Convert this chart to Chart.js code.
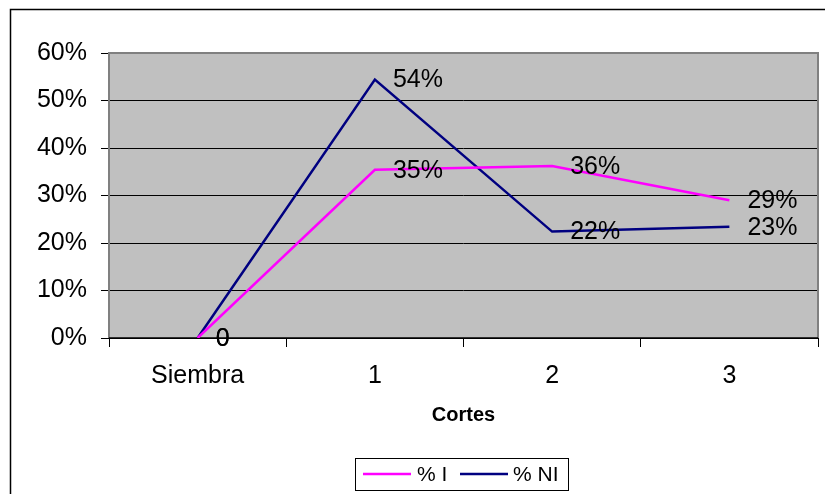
<!DOCTYPE html>
<html>
<head>
<meta charset="utf-8">
<title>Cortes</title>
<script src="https://cdn.jsdelivr.net/npm/chart.js@4/dist/chart.umd.min.js"></script>
<style>
  html, body { margin: 0; padding: 0; background: #fff; }
  #wrap { width: 825px; height: 494px; position: relative; }
</style>
</head>
<body>
<div id="wrap"><canvas id="c" width="825" height="494"></canvas></div>
<script>
// Categories along the x axis (harvest cuts)
const categories = ['Siembra', '1', '2', '3'];
// Share per cut, as fractions
const pctI  = [0, 0.354, 0.362, 0.290];
const pctNI = [0, 0.544, 0.224, 0.234];
// Series names
const seriesNames = ['% I', '% NI'];
// Y axis range and step
const yMin = 0, yMax = 0.6, yStep = 0.1;

const FONT = "'Liberation Sans', Arial, sans-serif";

function fmtPct(v) {
  return v === 0 ? '0' : Math.round(v * 100) + '%';
}

// Frame, plot-area fill and border
const framePlugin = {
  id: 'frame',
  beforeDraw(chart) {
    const { ctx, chartArea: a } = chart;
    ctx.save();
    ctx.fillStyle = '#fff';
    ctx.fillRect(0, 0, chart.width, chart.height);
    ctx.strokeStyle = '#000';
    ctx.lineWidth = 1.5;
    ctx.beginPath();
    ctx.moveTo(10.5, chart.height + 2);
    ctx.lineTo(10.5, 9.5);
    ctx.lineTo(chart.width + 2, 9.5);
    ctx.stroke();
    ctx.fillStyle = '#C0C0C0';
    ctx.fillRect(a.left, a.top, a.right - a.left, a.bottom - a.top);
    ctx.restore();
  },
  beforeDatasetsDraw(chart) {
    const { ctx, chartArea: a } = chart;
    ctx.save();
    ctx.strokeStyle = '#808080';
    ctx.lineWidth = 2;
    ctx.beginPath();
    ctx.moveTo(a.left, a.bottom);
    ctx.lineTo(a.left, a.top);
    ctx.lineTo(a.right, a.top);
    ctx.lineTo(a.right, a.bottom);
    ctx.stroke();
    ctx.strokeStyle = '#000';
    ctx.lineWidth = 1.5;
    ctx.beginPath();
    ctx.moveTo(a.left, a.bottom);
    ctx.lineTo(a.right, a.bottom);
    ctx.stroke();
    ctx.restore();
  }
};

// Value labels to the right of each point
const valueLabels = {
  id: 'valueLabels',
  afterDatasetsDraw(chart) {
    const { ctx } = chart;
    ctx.save();
    ctx.font = '25px ' + FONT;
    ctx.fillStyle = '#000';
    ctx.textAlign = 'left';
    ctx.textBaseline = 'middle';
    chart.data.datasets.forEach((ds, i) => {
      const meta = chart.getDatasetMeta(i);
      meta.data.forEach((pt, j) => {
        ctx.fillText(fmtPct(ds.data[j]), pt.x + 18, pt.y + 1);
      });
    });
    ctx.restore();
  }
};

// Boxed legend below the axis title
const boxLegend = {
  id: 'boxLegend',
  afterDraw(chart) {
    const { ctx } = chart;
    const x0 = 355, y0 = 458, w = 213, h = 32;
    ctx.save();
    ctx.fillStyle = '#fff';
    ctx.fillRect(x0, y0, w, h);
    ctx.strokeStyle = '#000';
    ctx.lineWidth = 1;
    ctx.strokeRect(x0 + 0.5, y0 + 0.5, w, h);
    const items = [
      { lineX: 363, textX: 417 },
      { lineX: 460, textX: 513 }
    ];
    const cy = y0 + 16;
    chart.data.datasets.forEach((ds, i) => {
      const it = items[i];
      ctx.strokeStyle = ds.borderColor;
      ctx.lineWidth = 2.5;
      ctx.beginPath();
      ctx.moveTo(it.lineX, cy);
      ctx.lineTo(it.lineX + 48, cy);
      ctx.stroke();
      ctx.fillStyle = '#000';
      ctx.font = '21px ' + FONT;
      ctx.textBaseline = 'middle';
      ctx.textAlign = 'left';
      ctx.fillText(ds.label, it.textX, cy + 1);
    });
    ctx.restore();
  }
};

new Chart(document.getElementById('c'), {
  type: 'line',
  data: {
    labels: categories,
    datasets: [
      { label: seriesNames[0], data: pctI, borderColor: '#FF00FF', backgroundColor: '#FF00FF',
        borderWidth: 2.5, pointRadius: 0, tension: 0, fill: false },
      { label: seriesNames[1], data: pctNI, borderColor: '#000080', backgroundColor: '#000080',
        borderWidth: 2.5, pointRadius: 0, tension: 0, fill: false }
    ]
  },
  options: {
    responsive: false,
    animation: false,
    devicePixelRatio: 1,
    layout: { padding: { top: 53, right: 7, left: 0, bottom: 0 } },
    plugins: { legend: { display: false }, tooltip: { enabled: false } },
    scales: {
      x: {
        offset: true,
        grid: { offset: true, drawOnChartArea: false, drawTicks: true, tickLength: 9, color: '#000', lineWidth: 1 },
        border: { display: false },
        ticks: { color: '#000', font: { family: FONT, size: 25 }, padding: 14, maxRotation: 0 },
        title: { display: true, text: 'Cortes', color: '#000',
                 font: { family: FONT, size: 20, weight: 'bold' }, padding: { top: 0, bottom: 67 } },
        afterFit(s) { s.height = 156; }
      },
      y: {
        min: yMin, max: yMax,
        grid: { color: '#000', lineWidth: 1, drawTicks: true, tickLength: 8 },
        border: { display: false },
        ticks: { stepSize: yStep, color: '#000', font: { family: FONT, size: 25 }, padding: 14,
                 callback: v => Math.round(v * 100) + '%' },
        afterFit(s) { s.width = 109; }
      }
    }
  },
  plugins: [framePlugin, valueLabels, boxLegend]
});
</script>
</body>
</html>
